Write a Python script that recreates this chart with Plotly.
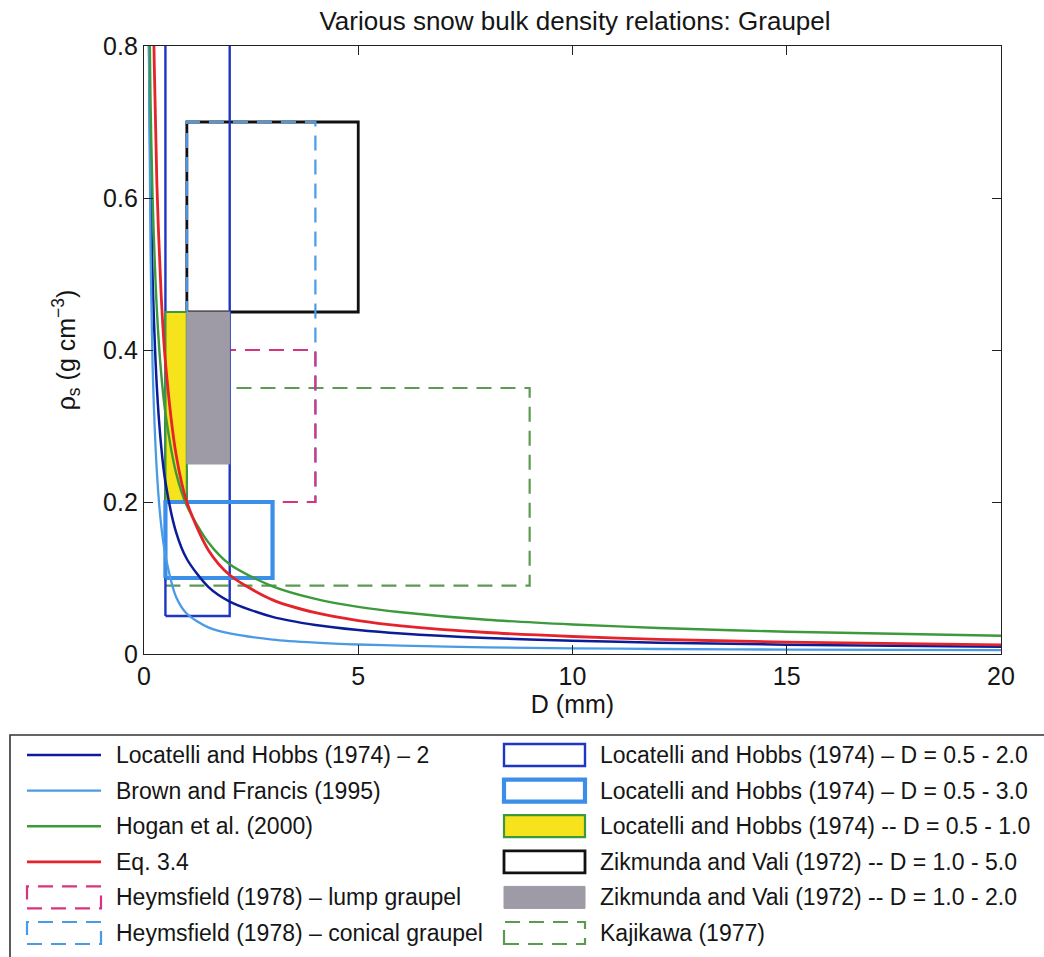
import plotly.graph_objects as go

# ---------------- data ----------------
D_mm = [0.1, 0.15, 0.2, 0.3, 0.4, 0.5, 0.75, 1, 1.5, 2, 3, 4, 5, 6, 8, 10, 12, 15, 20]

rho_locatelli_2 = [0.899, 0.635, 0.496, 0.351, 0.274, 0.226, 0.160, 0.125, 0.0883, 0.069,
                   0.0488, 0.0381, 0.0315, 0.0269, 0.021, 0.0174, 0.0149, 0.0123, 0.0096]
rho_brown_francis = [0.9, 0.55, 0.38, 0.24, 0.17, 0.13, 0.075, 0.053, 0.035, 0.027,
                     0.019, 0.015, 0.0125, 0.011, 0.0088, 0.0075, 0.0066, 0.0058, 0.005]
rho_hogan = [0.977, 0.736, 0.602, 0.453, 0.370, 0.317, 0.238, 0.195, 0.147, 0.118,
             0.0890, 0.0725, 0.0620, 0.0550, 0.0450, 0.0389, 0.0343, 0.0293, 0.024]
rho_eq34 = [1.74, 1.19, 0.908, 0.620, 0.473, 0.384, 0.262, 0.200, 0.137, 0.104,
            0.0712, 0.0543, 0.0440, 0.0371, 0.0283, 0.0230, 0.0193, 0.0157, 0.0120]

curve_labels = ["Locatelli and Hobbs (1974) – 2", "Brown and Francis (1995)",
                "Hogan et al. (2000)", "Eq. 3.4"]

# rectangles: D range and density range
box_labels = ["Heymsfield (1978) – lump graupel",
              "Heymsfield (1978) – conical graupel",
              "Locatelli and Hobbs (1974) – D = 0.5 - 2.0",
              "Locatelli and Hobbs (1974) – D = 0.5 - 3.0",
              "Locatelli and Hobbs (1974) -- D = 0.5 - 1.0",
              "Zikmunda and Vali (1972) -- D = 1.0 - 5.0",
              "Zikmunda and Vali (1972) -- D = 1.0 - 2.0",
              "Kajikawa (1977)"]
box_d_min = [1.0, 1.0, 0.5, 0.5, 0.5, 1.0, 1.0, 0.5]
box_d_max = [4.0, 4.0, 2.0, 3.0, 1.0, 5.0, 2.0, 9.0]
box_rho_min = [0.2, 0.2, 0.05, 0.1, 0.2, 0.45, 0.25, 0.09]
box_rho_max = [0.4, 0.7, 0.9, 0.2, 0.45, 0.7, 0.45, 0.35]

x_ticks = [0, 5, 10, 15, 20]
y_ticks = [0, 0.2, 0.4, 0.6, 0.8]

# ---------------- styles ----------------
FONT = "Liberation Sans, Arial, Helvetica, sans-serif"
TXT = "#151515"
curve_styles = [dict(color="#0b1d96", width=2.5),
                dict(color="#4a9be6", width=2.3),
                dict(color="#3c9a3c", width=2.4),
                dict(color="#e5232b", width=2.8)]
DASH = "15px,9px"
box_styles = [
    dict(line=dict(color="#d8337f", width=2.2, dash=DASH), fill=None),
    dict(line=dict(color="#4a9be6", width=2.2, dash=DASH), fill=None),
    dict(line=dict(color="#1f36c4", width=2.4), fill=None),
    dict(line=dict(color="#3c8fe8", width=4.2), fill=None),
    dict(line=dict(color="#3c9a3c", width=2.2), fill="#f7e31c"),
    dict(line=dict(color="#111111", width=2.8), fill=None),
    dict(line=dict(color="#9e9aa6", width=1), fill="#9e9aa6"),
    dict(line=dict(color="#5c9a52", width=2.2, dash=DASH), fill=None),
]
# drawing order (bottom to top)
draw_order = [7, 5, 1, 0, 2, 4, 6, 3]

fig = go.Figure()

for i in draw_order:
    xs = [box_d_min[i], box_d_max[i], box_d_max[i], box_d_min[i], box_d_min[i]]
    ys = [box_rho_min[i], box_rho_min[i], box_rho_max[i], box_rho_max[i], box_rho_min[i]]
    st = box_styles[i]
    fig.add_trace(go.Scatter(
        x=xs, y=ys, mode="lines", name=box_labels[i], showlegend=False,
        line=st["line"],
        fill="toself" if st["fill"] else "none",
        fillcolor=st["fill"] if st["fill"] else None,
        hoverinfo="skip"))

for lab, vals, st in zip(curve_labels, [rho_locatelli_2, rho_brown_francis, rho_hogan, rho_eq34],
                         curve_styles):
    fig.add_trace(go.Scatter(x=D_mm, y=vals, mode="lines", name=lab, showlegend=False,
                             line=dict(color=st["color"], width=st["width"], shape="spline",
                                       smoothing=0.8)))

# ---------------- layout ----------------
L, R, T, B = 144, 1001, 46, 654


def px(X):
    return (X - L) / (R - L)


def py(Y):
    return (B - Y) / (B - T)


axis_common = dict(showgrid=False, zeroline=False, showline=True, linecolor="#222",
                   linewidth=1.3, mirror="allticks", ticks="inside", ticklen=9,
                   tickcolor="#222", tickwidth=1.3,
                   tickfont=dict(family=FONT, size=25, color=TXT))

fig.update_layout(
    width=1044, height=957,
    margin=dict(l=L, r=1044 - R, t=T, b=957 - B),
    paper_bgcolor="white", plot_bgcolor="white",
    title=dict(text="Various snow bulk density relations: Graupel", xref="paper",
               x=px(575), xanchor="center",
               y=1 - 21 / 957, yanchor="middle", font=dict(family=FONT, size=26, color=TXT)),
    xaxis=dict(range=[0, 20], tickvals=x_ticks, ticktext=[str(v) for v in x_ticks],
               title=dict(text="D (mm)", font=dict(family=FONT, size=25, color=TXT), standoff=5),
               **axis_common),
    yaxis=dict(range=[0, 0.8], tickvals=y_ticks,
               ticktext=["0" if v == 0 else f"{v:.1f}" for v in y_ticks],
               title=dict(text="ρ<sub>s</sub> (g cm<sup>−3</sup>)",
                          font=dict(family=FONT, size=25, color=TXT), standoff=20),
               **axis_common),
    showlegend=False,
)

# ---------------- manual legend ----------------
shapes = []
annotations = []
shapes.append(dict(type="rect", xref="paper", yref="paper", x0=px(10), x1=px(1070),
                   y0=py(735), y1=py(975), line=dict(color="#333", width=1.6),
                   fillcolor="rgba(0,0,0,0)"))
row_Y = [755 + 35.6 * k for k in range(6)]

left_items = [("curve", 0), ("curve", 1), ("curve", 2), ("curve", 3), ("box", 0), ("box", 1)]
right_items = [("box", 2), ("box", 3), ("box", 4), ("box", 5), ("box", 6), ("box", 7)]


def add_symbol(kind, idx, X0, X1, Yc):
    if kind == "curve":
        st = curve_styles[idx]
        shapes.append(dict(type="line", xref="paper", yref="paper", x0=px(X0), x1=px(X1),
                           y0=py(Yc), y1=py(Yc), line=dict(color=st["color"], width=st["width"])))
    else:
        st = box_styles[idx]
        shapes.append(dict(type="rect", xref="paper", yref="paper", x0=px(X0), x1=px(X1),
                           y0=py(Yc + 11), y1=py(Yc - 11), line=st["line"],
                           fillcolor=st["fill"] if st["fill"] else "rgba(0,0,0,0)"))


for k, (kind, idx) in enumerate(left_items):
    Yc = row_Y[k]
    add_symbol(kind, idx, 27, 101, Yc)
    annotations.append(dict(xref="paper", yref="paper", x=px(114), y=py(Yc), xanchor="left",
                            yanchor="middle", showarrow=False,
                            text=curve_labels[idx] if kind == "curve" else box_labels[idx],
                            font=dict(family=FONT, size=23, color=TXT)))
for k, (kind, idx) in enumerate(right_items):
    Yc = row_Y[k]
    add_symbol(kind, idx, 504, 585, Yc)
    annotations.append(dict(xref="paper", yref="paper", x=px(598), y=py(Yc), xanchor="left",
                            yanchor="middle", showarrow=False, text=box_labels[idx],
                            font=dict(family=FONT, size=23, color=TXT)))

fig.update_layout(shapes=shapes, annotations=annotations)

fig.write_html("out.html")
